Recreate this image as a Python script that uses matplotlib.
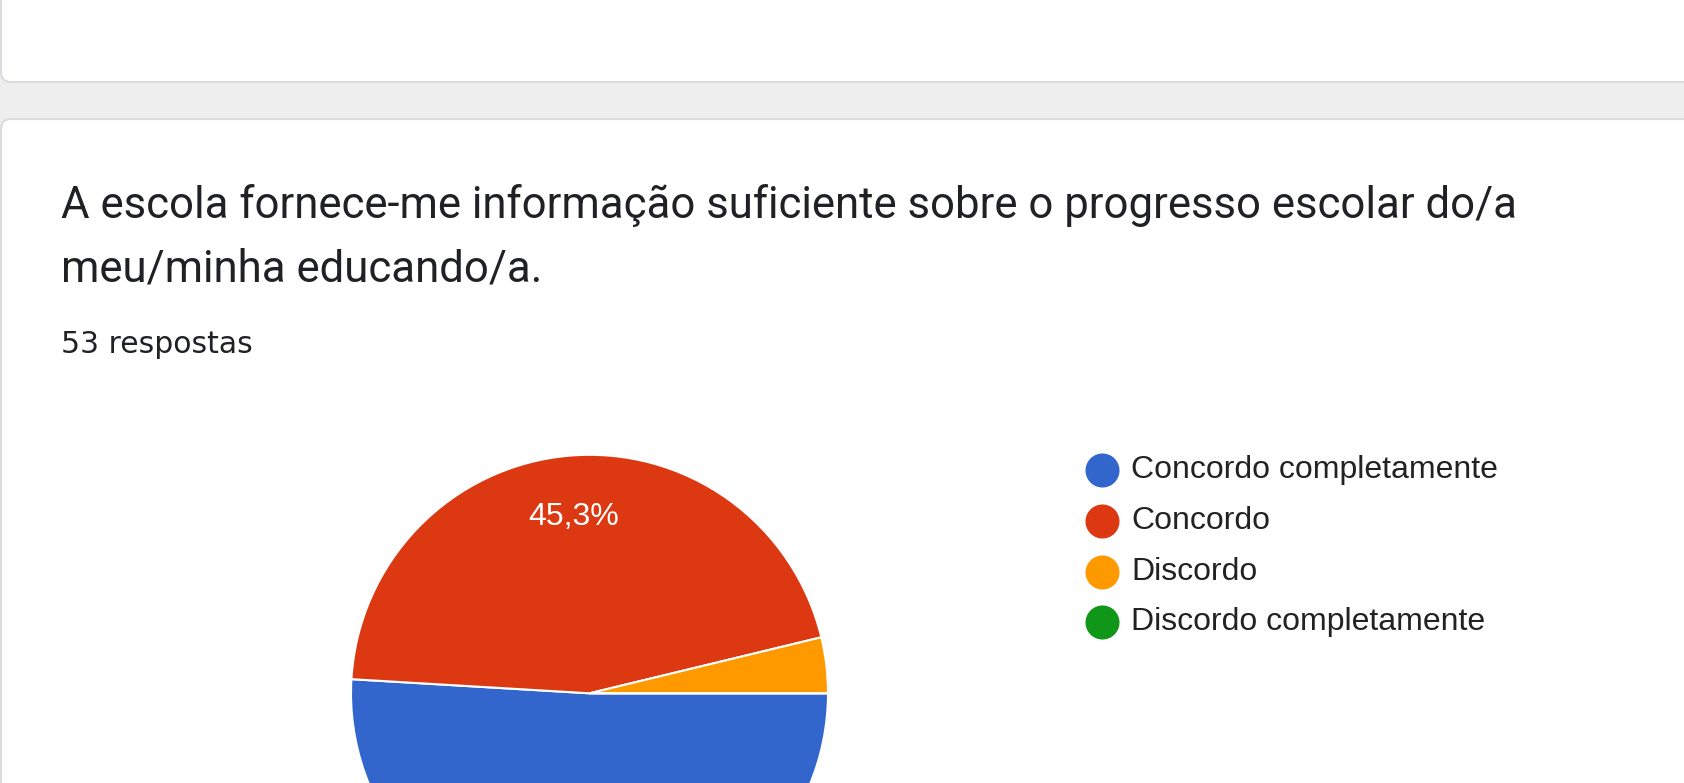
from matplotlib import pyplot as plt
from matplotlib.patches import FancyBboxPatch

# 数据
categories = ["Concordo completamente", "Concordo", "Discordo", "Discordo completamente"]
counts = [27, 24, 2, 0]
colors = ["#3366cc", "#dc3912", "#ff9900", "#109618"]
title_lines = ["A escola fornece-me informação suficiente sobre o progresso escolar do/a",
               "meu/minha educando/a."]
n_respostas = "53 respostas"

W, H = 1684, 783
fig = plt.figure(figsize=(W / 100, H / 100), dpi=100)
fig.patch.set_facecolor("#eeeeee")

# 背景层，用像素坐标
bg = fig.add_axes([0, 0, 1, 1])
bg.set_xlim(0, W)
bg.set_ylim(H, 0)
bg.axis("off")

# 上面的卡片和下面的卡片
card_top = FancyBboxPatch((1, -40), W + 40, 40 + 82, boxstyle="round,pad=0,rounding_size=10",
                          facecolor="white", edgecolor="#dadce0", linewidth=1.5)
card_bottom = FancyBboxPatch((1, 119), W + 40, 800, boxstyle="round,pad=0,rounding_size=10",
                             facecolor="white", edgecolor="#dadce0", linewidth=1.5)
bg.add_patch(card_top)
bg.add_patch(card_bottom)

# 标题
bg.text(61, 218, title_lines[0], fontsize=31.5, family="Roboto", color="#202124", va="baseline")
bg.text(61, 282, title_lines[1], fontsize=31.5, family="Roboto", color="#202124", va="baseline")
bg.text(61, 353, n_respostas, fontsize=21.5, family="DejaVu Sans", color="#202124", va="baseline")

# 图例
for i, (name, c) in enumerate(zip(categories, colors)):
    y = 470 + i * 50.8
    bg.scatter([1101.5], [y], s=23.5 ** 2, color=c, zorder=3)
    bg.text(1131, y, name, fontsize=23, family="Liberation Sans", color="#222222", va="center")

# 饼图
cx, cy, r = 589.5, 693.3, 238.5
pie_ax = fig.add_axes([(cx - r) / W, (H - cy - r) / H, 2 * r / W, 2 * r / H])


def fmt(p):
    if p < 5:
        return ""
    return ("%.1f%%" % p).replace(".", ",")


wedges, texts, autotexts = pie_ax.pie(counts, colors=colors, startangle=0, counterclock=False,
                                      radius=1, autopct=fmt, pctdistance=0.742,
                                      wedgeprops={"edgecolor": "white", "linewidth": 1.5})
bottom_edge = -(H - cy) / r
for t in autotexts:
    t.set_color("white")
    t.set_fontsize(23)
    t.set_family("Liberation Sans")
    # 图片下边被裁掉的标签不显示
    if t.get_position()[1] < bottom_edge:
        t.set_visible(False)
pie_ax.set_xlim(-1, 1)
pie_ax.set_ylim(-1, 1)
pie_ax.axis("off")

fig.savefig("out.png", dpi=100, facecolor=fig.get_facecolor())
